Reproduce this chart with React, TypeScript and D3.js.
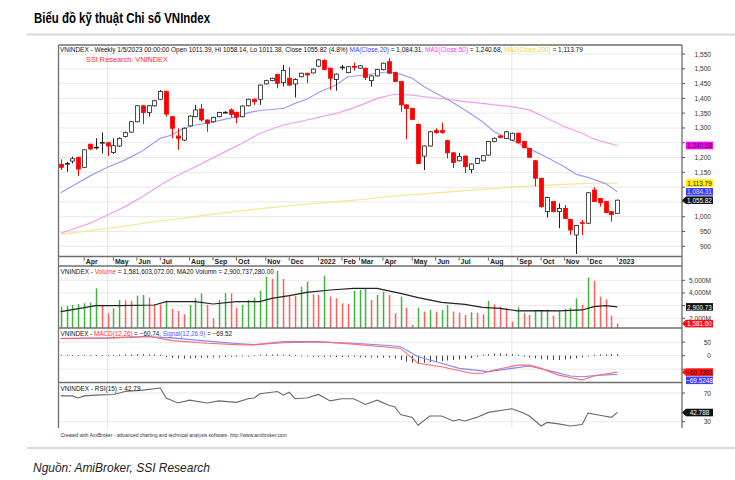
import React, { useEffect, useRef } from 'react';
import * as d3 from 'd3';

// Weekly VNINDEX bars, Mar 2021 .. 5 Jan 2023 (bar index 0..95)
const opens = [
  1177, 1179, 1188, 1200, 1167, 1245, 1234, 1250, 1250, 1217,
  1239, 1271, 1286, 1321, 1375, 1352, 1375, 1397, 1423, 1338,
  1273, 1259, 1307, 1338, 1364, 1327, 1321, 1338, 1352, 1361,
  1353, 1338, 1375, 1397, 1397, 1449, 1460, 1481, 1453, 1468,
  1449, 1473, 1485, 1486, 1509, 1528, 1502, 1464, 1504, 1487,
  1508, 1502, 1502, 1460, 1476, 1497, 1524, 1487, 1457, 1378,
  1366, 1312, 1205, 1239, 1291, 1291, 1257, 1216, 1189, 1205,
  1160, 1180, 1189, 1208, 1254, 1273, 1265, 1259, 1282, 1254,
  1231, 1189, 1130, 1017, 1051, 1017, 1028, 991, 938, 980,
  978, 1090, 1062, 1051, 1017, 1011.39,
];
const highs = [
  1194, 1186, 1203, 1203, 1228, 1247, 1265, 1285, 1251, 1265,
  1268, 1288, 1323, 1377, 1378, 1377, 1395, 1428, 1426, 1340,
  1299, 1301, 1343, 1378, 1381, 1329, 1338, 1355, 1357, 1366,
  1355, 1376, 1399, 1400, 1447, 1463, 1470, 1483, 1513, 1505,
  1468, 1487, 1487, 1501, 1533, 1532, 1504, 1484, 1513, 1509,
  1521, 1512, 1504, 1478, 1500, 1521, 1536, 1490, 1459, 1380,
  1368, 1315, 1241, 1290, 1299, 1318, 1260, 1218, 1216, 1207,
  1180, 1199, 1208, 1256, 1268, 1276, 1290, 1284, 1284, 1256,
  1233, 1192, 1132, 1068, 1053, 1045, 1040, 993, 972, 989,
  1083, 1099, 1064, 1053, 1019, 1058.14,
];
const lows = [
  1158, 1152, 1180, 1138, 1165, 1226, 1227, 1214, 1205, 1212,
  1236, 1268, 1284, 1319, 1313, 1338, 1372, 1394, 1338, 1265,
  1226, 1256, 1305, 1336, 1321, 1287, 1318, 1336, 1349, 1336,
  1316, 1336, 1373, 1378, 1378, 1447, 1458, 1434, 1440, 1443,
  1403, 1471, 1451, 1484, 1507, 1495, 1428, 1426, 1496, 1485,
  1494, 1500, 1462, 1440, 1474, 1495, 1483, 1455, 1355, 1262,
  1327, 1178, 1158, 1237, 1280, 1280, 1197, 1164, 1187, 1147,
  1147, 1178, 1187, 1206, 1252, 1265, 1263, 1257, 1248, 1231,
  1199, 1102, 1030, 997, 1015, 961, 992, 938, 874, 938,
  975, 1049, 1034, 1012, 983, 1011.38,
];
const closes = [
  1167, 1180, 1196, 1161, 1226, 1229, 1235, 1251, 1239, 1240,
  1265, 1284, 1321, 1375, 1352, 1375, 1392, 1423, 1347, 1299,
  1265, 1299, 1340, 1361, 1327, 1316, 1336, 1352, 1353, 1346,
  1336, 1374, 1397, 1389, 1445, 1460, 1468, 1451, 1494, 1445,
  1464, 1485, 1479, 1499, 1530, 1498, 1468, 1482, 1506, 1507,
  1506, 1510, 1471, 1476, 1498, 1519, 1485, 1457, 1378, 1366,
  1329, 1180, 1239, 1287, 1285, 1285, 1216, 1183, 1203, 1169,
  1178, 1197, 1206, 1254, 1265, 1268, 1287, 1282, 1250, 1233,
  1201, 1130, 1034, 1065, 1017, 1028, 994, 955, 970, 977,
  1081, 1051, 1047, 1014, 1007.09, 1055.82,
];
// weekly volume, millions of shares
const volumes = [
  2920, 2973, 3052, 3131, 3184, 3236, 4367, 3000, 2395, 2789,
  3447, 3420, 3380, 3788, 3841, 3631, 3105, 3080, 3394, 2736,
  2579, 2316, 3052, 3578, 3973, 3052, 2000, 3447, 3990, 3960,
  2842, 3052, 3447, 3631, 4157, 5288, 5103, 5735, 5103, 3841,
  3788, 4499, 4893, 3894, 3841, 5366, 3710, 3578, 3184, 3150,
  4157, 4236, 4314, 3447, 3841, 4104, 3841, 2395, 3710, 2842,
  1474, 2842, 2526, 2658, 2526, 2658, 3052, 2526, 2447, 2263,
  2473, 2440, 2316, 3368, 3105, 2921, 2789, 1737, 2868, 2395,
  2263, 2630, 2650, 2680, 2210, 2579, 2736, 2842, 3578, 3052,
  5209, 4946, 3710, 3499, 2210, 1581.603072,
];
const macdHist = [
  1, 1, 1, 1, 1, 1, 1, 1, 1, 1,
  2, 3, 3, 4, 4, 3, 3, 2, -3, -6,
  -8, -9, -8, -7, -6, -5, -4, -4, -3, -2,
  -2, -1, -1, 1, 2, 3, 3, 3, 2, 2,
  1, -1, -1, -2, -2, -3, -3, -3, -3, -3,
  -3, -4, -4, -4, -5, -5, -5, -8, -14, -20,
  -24, -26, -24, -22, -20, -18, -16, -14, -12, -10,
  -7, -3, 2, 4, 6, 6, 5, 4, 2, -2,
  -5, -8, -11, -13, -14, -14, -12, -10, -8, -4,
  -1, 2, 3, 3, 4, 4,
];

// indicator lines at the listed bars
const ma20Bars = [0, 2, 5, 8, 11, 14, 17, 19, 21, 23, 25, 27, 29, 31, 32, 34, 37, 38, 40, 42, 44, 47, 49, 52, 54, 56, 58, 60, 62, 64, 66, 69, 72, 74, 77, 79, 81, 83, 86, 88, 90, 93, 95];
const ma20Values = [1081, 1104, 1138, 1167, 1192, 1223, 1265, 1276, 1299, 1310, 1316, 1325, 1333, 1344, 1352, 1359, 1364, 1366, 1383, 1397, 1420, 1445, 1473, 1479, 1485, 1490, 1482, 1468, 1440, 1417, 1397, 1361, 1321, 1287, 1259, 1239, 1220, 1200, 1169, 1143, 1133, 1112, 1084.31];
const ma50Bars = [0, 5, 8, 11, 14, 17, 19, 23, 27, 31, 34, 38, 42, 47, 49, 52, 54, 57, 60, 63, 66, 69, 72, 74, 77, 80, 83, 86, 89, 91, 95];
const ma50Values = [944, 978, 1006, 1034, 1068, 1107, 1130, 1169, 1209, 1248, 1282, 1310, 1327, 1349, 1361, 1383, 1400, 1414, 1411, 1403, 1397, 1389, 1383, 1378, 1372, 1361, 1333, 1304, 1282, 1262, 1240.68];
const ma200Bars = [0, 5, 10, 16, 22, 27, 33, 39, 47, 52, 57, 63, 69, 74, 80, 86, 91, 95];
const ma200Values = [940, 953, 966, 983, 998, 1011, 1025, 1037, 1051, 1059, 1070, 1079, 1088, 1096, 1104, 1109, 1113, 1113.79];
const volMaBars = [0, 6, 10, 16, 18, 23, 26, 30, 34, 36, 39, 42, 46, 50, 54, 58, 61, 65, 69, 72, 75, 78, 82, 85, 89, 91, 93, 95];
const volMaValues = [2526, 3000, 3000, 3052, 3315, 3315, 3131, 3315, 3315, 3578, 3788, 4051, 4236, 4367, 4367, 3973, 3631, 3262, 3105, 2868, 2789, 2579, 2605, 2579, 2658, 2921, 3000, 2900.73728];
const macdBars = [0, 8, 15, 19, 25, 30, 33, 38, 44, 50, 55, 58, 61, 65, 70, 72, 74, 78, 80, 82, 85, 89, 91, 93, 95];
const macdValues = [64, 66, 72, 56, 46, 41, 40, 52, 52, 43, 33, 27, -28, -41, -65, -65, -53, -35, -35, -47, -72, -90, -75, -68, -60.7381];
const signalBars = [0, 8, 15, 19, 25, 30, 33, 38, 44, 50, 56, 58, 61, 65, 68, 73, 77, 80, 84, 87, 89, 92, 95];
const signalValues = [63, 65, 70, 66, 54, 45, 41, 48, 51, 46, 38, 33, -4, -28, -47, -59, -47, -38, -59, -75, -78, -72, -69.5248];
const rsiBars = [0, 2, 3, 4, 6, 9, 11, 14, 17, 18, 20, 22, 25, 27, 30, 32, 33, 34, 37, 38, 39, 40, 42, 44, 46, 48, 50, 52, 54, 56, 57, 58, 60, 61, 63, 65, 67, 68, 69, 71, 73, 77, 79, 80, 82, 83, 85, 87, 89, 90, 92, 94, 95];
const rsiValues = [66, 66, 63, 66, 67, 68, 72, 74, 77, 63, 56, 60, 56, 59, 57, 62, 63, 69, 72, 67, 71, 62, 63, 68, 59, 62, 62, 54, 60, 53, 51, 40, 36, 25, 38, 38, 31, 33, 31, 36, 43, 48, 42, 38, 24, 29, 27, 24, 26, 42, 39, 36, 42.788];

// date axis
const monthLabels = ['Apr', 'May', 'Jun', 'Jul', 'Aug', 'Sep', 'Oct', 'Nov', 'Dec', '2022', 'Feb', 'Mar', 'Apr', 'May', 'Jun', 'Jul', 'Aug', 'Sep', 'Oct', 'Nov', 'Dec', '2023'];
const monthBars = [4, 9, 13, 17, 22, 26, 30, 35, 39, 44, 48, 51, 55, 60, 64, 68, 73, 78, 82, 86, 90, 95];
const gridBars = [8, 77];

const priceTicks = [900, 950, 1000, 1050, 1100, 1150, 1200, 1250, 1300, 1350, 1400, 1450, 1500, 1550];
const volumeTicks = [2000, 3000, 4000, 5000];
const macdTicks = [-50, 0, 50];
const rsiTicks = [30, 70];

const W = 735;
const H = 480;
const FONT = "'Liberation Sans', Arial, sans-serif";

export default function App() {
  const svgRef = useRef<SVGSVGElement>(null);

  useEffect(() => {
    const svg = d3.select(svgRef.current);
    svg.selectAll('*').remove();

    const left = 58.5;
    const right = 682;
    const top = 45;
    const priceBottom = 256.5;
    const stripBottom = 266;
    const volBottom = 328;
    const macdBottom = 382.5;
    const rsiBottom = 428;

    const x = d3.scaleLinear().domain([0, 95]).range([60.7, 617.3]);
    const yP = d3.scaleLinear().domain([1000, 1550]).range([216.7, 54]);
    const yV = d3.scaleLinear().domain([2000, 5000]).range([318.3, 280.3]);
    const yM = d3.scaleLinear().domain([-50, 50]).range([369.2, 342.2]);
    const yR = d3.scaleLinear().domain([30, 70]).range([421.7, 393]);

    const fitWidth = (t: any, w: number) => {
      const len = (t.node() as SVGTextElement).getComputedTextLength();
      if (len > 0) t.attr('font-size', (+t.attr('font-size') * w) / len);
    };

    // page title + separators
    svg.append('text')
      .attr('x', 34).attr('y', 17).attr('dominant-baseline', 'central')
      .attr('font-family', "'Liberation Sans Narrow', 'Liberation Sans', Arial, sans-serif")
      .attr('font-weight', 'bold').attr('font-size', 15).attr('fill', '#000')
      .attr('textLength', 176).attr('lengthAdjust', 'spacingAndGlyphs')
      .text('Biểu đồ kỹ thuật Chỉ số VNIndex');
    [34.5, 448].forEach((yy) => {
      svg.append('line').attr('x1', 27).attr('x2', W).attr('y1', yy).attr('y2', yy)
        .attr('stroke', '#d9d9d9').attr('stroke-width', 2);
    });
    svg.append('text')
      .attr('x', 33).attr('y', 467).attr('dominant-baseline', 'central')
      .attr('font-family', FONT).attr('font-style', 'italic').attr('font-size', 13).attr('fill', '#222')
      .attr('textLength', 177).attr('lengthAdjust', 'spacingAndGlyphs')
      .text('Nguồn: AmiBroker, SSI Research');

    const defs = svg.append('defs');
    const clip = (id: string, y0: number, y1: number) => {
      defs.append('clipPath').attr('id', id).append('rect')
        .attr('x', left).attr('y', y0).attr('width', right - left).attr('height', y1 - y0);
      return `url(#${id})`;
    };
    const clipP = clip('clipP', top, priceBottom);
    const clipV = clip('clipV', stripBottom, volBottom);
    const clipM = clip('clipM', volBottom, macdBottom);
    const clipR = clip('clipR', macdBottom, rsiBottom);

    // horizontal grids
    const hgrid = (ticks: number[], y: any) => {
      svg.append('g').selectAll('line').data(ticks).enter().append('line')
        .attr('x1', left).attr('x2', right)
        .attr('y1', (d) => y(d)).attr('y2', (d) => y(d))
        .attr('stroke', '#e9e9e9').attr('stroke-width', 1);
    };
    hgrid(priceTicks, yP);
    hgrid(volumeTicks, yV);
    hgrid(macdTicks, yM);
    hgrid(rsiTicks, yR);

    svg.append('g').selectAll('line').data(gridBars).enter().append('line')
      .attr('x1', (d) => x(d)).attr('x2', (d) => x(d))
      .attr('y1', top).attr('y2', rsiBottom)
      .attr('stroke', '#e6e6e6').attr('stroke-width', 1);

    const drawLine = (bars: number[], values: number[], y: any, color: string, cp: string, w = 1.2) => {
      const line = d3.line<number>().x((_, i) => x(bars[i])).y((v) => y(v));
      svg.append('path').datum(values).attr('d', line).attr('fill', 'none')
        .attr('stroke', color).attr('stroke-width', w).attr('clip-path', cp);
    };

    // price panel
    drawLine(ma200Bars, ma200Values, yP, '#f7e58f', clipP);
    drawLine(ma50Bars, ma50Values, yP, '#f49bf2', clipP);
    drawLine(ma20Bars, ma20Values, yP, '#9d9df5', clipP);

    const idx = d3.range(opens.length);
    const candles = svg.append('g').attr('clip-path', clipP);
    const upColor = '#222';
    const dnColor = '#ff0000';
    candles.selectAll('line').data(idx).enter().append('line')
      .attr('x1', (i) => Math.round(x(i)) + 0.5).attr('x2', (i) => Math.round(x(i)) + 0.5)
      .attr('y1', (i) => yP(highs[i])).attr('y2', (i) => yP(lows[i]))
      .attr('stroke', (i) => (closes[i] >= opens[i] ? upColor : dnColor)).attr('stroke-width', 1);
    candles.selectAll('rect').data(idx).enter().append('rect')
      .attr('x', (i) => Math.round(x(i)) - 1.5)
      .attr('y', (i) => Math.min(yP(opens[i]), yP(closes[i])))
      .attr('width', 4)
      .attr('height', (i) => Math.max(0.8, Math.abs(yP(opens[i]) - yP(closes[i]))))
      .attr('fill', (i) => (closes[i] >= opens[i] ? '#fff' : dnColor))
      .attr('stroke', (i) => (closes[i] >= opens[i] ? upColor : dnColor))
      .attr('stroke-width', 0.8);

    // volume panel
    const vol = svg.append('g').attr('clip-path', clipV);
    vol.selectAll('rect').data(idx).enter().append('rect')
      .attr('x', (i) => Math.round(x(i)) - 0.2)
      .attr('width', 1.5)
      .attr('y', (i) => yV(volumes[i]))
      .attr('height', (i) => volBottom - yV(volumes[i]))
      .attr('fill', (i) => (i === 0 || volumes[i] >= volumes[i - 1] ? '#3fb53f' : '#ff5f5f'));
    drawLine(volMaBars, volMaValues, yV, '#222', clipV, 1.2);

    // MACD panel
    svg.append('g').attr('clip-path', clipM).selectAll('line').data(idx).enter().append('line')
      .attr('x1', (i) => Math.round(x(i)) + 0.5).attr('x2', (i) => Math.round(x(i)) + 0.5)
      .attr('y1', yM(0)).attr('y2', (i) => yM(macdHist[i]) + (macdHist[i] >= 0 ? -0.5 : 0.5))
      .attr('stroke', '#444').attr('stroke-width', 1);
    drawLine(signalBars, signalValues, yM, '#8585ff', clipM, 1.1);
    drawLine(macdBars, macdValues, yM, '#ff6b6b', clipM, 1.1);

    // RSI panel
    drawLine(rsiBars, rsiValues, yR, '#6a6a6a', clipR, 1.1);

    // frame
    const frame = svg.append('g').attr('stroke', '#6e6e6e').attr('stroke-width', 1.3);
    frame.append('line').attr('x1', left).attr('x2', left).attr('y1', top).attr('y2', rsiBottom);
    frame.append('line').attr('x1', right).attr('x2', right).attr('y1', top).attr('y2', rsiBottom);
    [top, priceBottom, stripBottom, volBottom, macdBottom].forEach((yy) => {
      frame.append('line').attr('x1', left).attr('x2', right).attr('y1', yy).attr('y2', yy);
    });

    // date strip
    const strip = svg.append('g');
    strip.selectAll('line').data(monthBars).enter().append('line')
      .attr('x1', (d) => x(d)).attr('x2', (d) => x(d))
      .attr('y1', priceBottom + 1).attr('y2', priceBottom + 4)
      .attr('stroke', '#333').attr('stroke-width', 0.8);
    strip.selectAll('text').data(monthLabels).enter().append('text')
      .attr('x', (_, i) => x(monthBars[i]) + 1.5).attr('y', 261.8)
      .attr('dominant-baseline', 'central')
      .attr('font-family', FONT).attr('font-size', 7).attr('font-weight', 'bold').attr('fill', '#222')
      .text((d) => d);

    // panel headers
    const header = (xx: number, yy: number, parts: [string, string][], width: number, size = 7) => {
      const t = svg.append('text').attr('x', xx).attr('y', yy).attr('dominant-baseline', 'central')
        .attr('font-family', FONT).attr('font-size', size).style('white-space', 'pre');
      parts.forEach(([s, c]) => t.append('tspan').attr('fill', c).text(s));
      fitWidth(t, width);
    };
    const k = '#111';
    const fmt2 = d3.format(',.2f');
    const last = closes.length - 1;
    const chg = d3.format('.1%')((closes[last] - closes[last - 1]) / closes[last - 1]);
    header(60, 49, [
      [`VNINDEX - Weekly 1/5/2023 00:00:00 Open ${opens[last]}, Hi ${highs[last]}, Lo ${lows[last]}, Close ${closes[last]} (${chg}) `, k],
      ['MA(Close,20)', '#3b3bff'], [` = ${fmt2(ma20Values[ma20Values.length - 1])}, `, k],
      ['MA1(Close,50)', '#ff33ff'], [` = ${fmt2(ma50Values[ma50Values.length - 1])}, `, k],
      ['MA2(Close,200)', '#efd14a'], [` = ${fmt2(ma200Values[ma200Values.length - 1])}`, k],
    ], 524);
    header(86, 58.5, [['SSI Research: VNINDEX', '#ff2a2a']], 82, 8);
    header(60.5, 270.5, [
      ['VNINDEX - ', k], ['Volume', '#ff3030'],
      [` = ${fmt2(volumes[last] * 1e6)}, MA20 Volumn = ${fmt2(volMaValues[volMaValues.length - 1] * 1e6)}`, k],
    ], 214);
    header(60.5, 332.5, [
      ['VNINDEX - ', k], ['MACD(12,26)', '#ff3030'], [` = ${fmt2(macdValues[macdValues.length - 1])}, `, k],
      ['Signal(12,26,9)', '#5555ff'], [` = ${fmt2(signalValues[signalValues.length - 1])}`, k],
    ], 172);
    header(60.5, 387.5, [[`VNINDEX - RSI(15) = ${fmt2(rsiValues[rsiValues.length - 1])}`, k]], 80);
    header(60.5, 435, [['Created with AmiBroker - advanced charting and technical analysis software. http://www.amibroker.com', '#333']], 227, 5);

    // value tags on the right axis (computed first so covered tick labels can be skipped)
    type Tag = { y: number; text: string; bg: string; fg: string; arrow: boolean };
    const tagH = 7.6;
    const place = (items: Tag[]) => {
      let prev = -Infinity;
      return items.sort((a, b) => a.y - b.y).map((it) => {
        const yy = Math.max(it.y, prev + tagH + 0.6);
        prev = yy;
        return { ...it, y: yy };
      });
    };
    const trunc2 = (v: number) => fmt2(Math.floor(v * 100) / 100);
    const lastOf = (a: number[]) => a[a.length - 1];
    const priceTags = place([
      { y: yP(lastOf(ma50Values)), text: fmt2(lastOf(ma50Values)), bg: '#ff00ff', fg: '#222', arrow: false },
      { y: yP(lastOf(ma200Values)), text: fmt2(lastOf(ma200Values)), bg: '#ffee00', fg: '#222', arrow: false },
      { y: yP(lastOf(ma20Values)), text: fmt2(lastOf(ma20Values)), bg: '#3d3dff', fg: '#ddd', arrow: false },
      { y: yP(closes[last]), text: fmt2(closes[last]), bg: '#111', fg: '#fff', arrow: true },
    ]);
    const volTags = place([
      { y: yV(lastOf(volMaValues)), text: trunc2(lastOf(volMaValues)), bg: '#111', fg: '#fff', arrow: false },
      { y: yV(volumes[last]), text: trunc2(volumes[last]), bg: '#ff1010', fg: '#fff', arrow: true },
    ]);
    const macdTags = place([
      { y: yM(lastOf(macdValues)), text: d3.format('.4f')(lastOf(macdValues)), bg: '#ff1010', fg: '#222', arrow: true },
      { y: yM(lastOf(signalValues)), text: d3.format('.4f')(lastOf(signalValues)), bg: '#3d3dff', fg: '#fff', arrow: false },
    ]);
    const rsiTags = place([
      { y: yR(lastOf(rsiValues)), text: d3.format('.3f')(lastOf(rsiValues)), bg: '#111', fg: '#fff', arrow: true },
    ]);

    // right axis tick marks + labels (labels hidden behind a tag are skipped)
    const axisLabels = (ticks: number[], y: any, f: (v: number) => string, cover: Tag[]) => {
      const g = svg.append('g');
      g.selectAll('line').data(ticks).enter().append('line')
        .attr('x1', right).attr('x2', right + 3)
        .attr('y1', (d) => y(d)).attr('y2', (d) => y(d))
        .attr('stroke', '#555').attr('stroke-width', 1);
      const shown = ticks.filter((d) => cover.every((t) => Math.abs(t.y - y(d)) > 5));
      g.selectAll('text').data(shown).enter().append('text')
        .attr('x', 711).attr('y', (d) => y(d)).attr('dominant-baseline', 'central')
        .attr('text-anchor', 'end').attr('font-family', FONT).attr('font-size', 6.6).attr('fill', '#333')
        .text((d) => f(d));
    };
    axisLabels(priceTicks, yP, d3.format(','), priceTags);
    axisLabels(volumeTicks, yV, (v) => `${d3.format(',')(v)}M`, volTags);
    axisLabels(macdTicks, yM, (v) => `${v}`, macdTags);
    axisLabels(rsiTicks, yR, (v) => `${v}`, rsiTags);

    const drawTags = (items: Tag[]) => {
      items.forEach((it) => {
        const x0 = 686;
        const w = 27;
        if (it.arrow) {
          svg.append('path').attr('d', `M${x0 - 4},${it.y} L${x0},${it.y - tagH / 2} L${x0},${it.y + tagH / 2} Z`).attr('fill', it.bg);
        }
        svg.append('rect').attr('x', x0).attr('y', it.y - tagH / 2).attr('width', w).attr('height', tagH).attr('fill', it.bg);
        svg.append('text').attr('x', x0 + w / 2).attr('y', it.y + 0.2).attr('dominant-baseline', 'central')
          .attr('text-anchor', 'middle').attr('font-family', FONT).attr('font-size', 6.4).attr('fill', it.fg)
          .text(it.text);
      });
    };
    drawTags(priceTags);
    drawTags(volTags);
    drawTags(macdTags);
    drawTags(rsiTags);
  }, []);

  return (
    <div style={{ position: 'absolute', left: 0, top: 0 }}>
      <svg ref={svgRef} width={W} height={H} style={{ display: 'block', background: '#fff' }} />
    </div>
  );
}
